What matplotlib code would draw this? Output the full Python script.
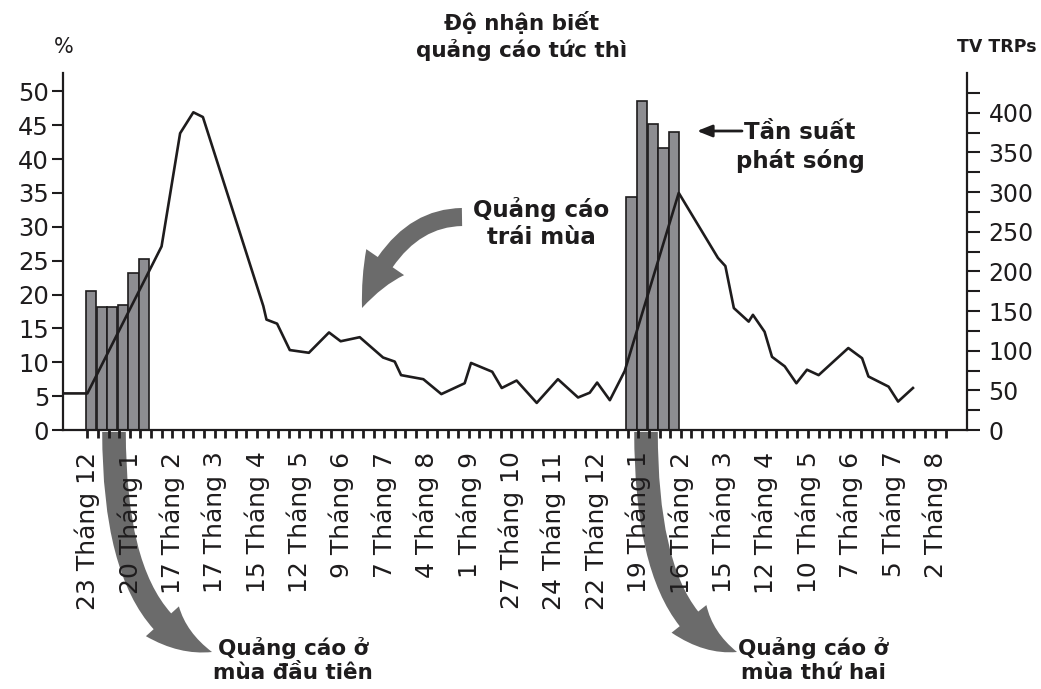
import numpy as np
import matplotlib
matplotlib.use("Agg")
import matplotlib.pyplot as plt
from matplotlib.patches import FancyArrowPatch, ArrowStyle
from matplotlib.path import Path

plt.rcParams['font.family'] = ['DejaVu Sans']

# x axis is in weeks, week 0 = 23 Tháng 12
date_labels = ["23 Tháng 12", "20 Tháng 1", "17 Tháng 2", "17 Tháng 3", "15 Tháng 4",
               "12 Tháng 5", "9 Tháng 6", "7 Tháng 7", "4 Tháng 8", "1 Tháng 9",
               "27 Tháng 10", "24 Tháng 11", "22 Tháng 12", "19 Tháng 1", "16 Tháng 2",
               "15 Tháng 3", "12 Tháng 4", "10 Tháng 5", "7 Tháng 6", "5 Tháng 7", "2 Tháng 8"]
label_weeks = [0, 4, 8, 12, 16, 20, 24, 28, 32, 36, 40, 44, 48, 52, 56, 60, 64, 68, 72, 76, 80]
n_weeks = 82

# ad awareness (%), left axis
line_weeks = [-2.3, 0, 7.0, 8.75, 10.0, 10.9, 16.6, 16.9, 17.9, 19.1, 20.9, 22.8, 23.9,
              25.7, 27.9, 29.0, 29.6, 31.7, 33.4, 35.6, 36.2, 38.2, 39.1, 40.5, 42.4,
              44.4, 46.3, 47.4, 48.1, 49.3, 50.7, 55.8, 59.5, 60.2, 61.0, 62.4, 62.8,
              63.9, 64.6, 65.8, 66.9, 67.9, 69.0, 71.8, 73.1, 73.7, 75.6, 76.5, 77.9]
awareness = [5.4, 5.4, 27.1, 43.8, 46.9, 46.2, 18.3, 16.3, 15.7, 11.8, 11.4, 14.4, 13.1,
             13.7, 10.7, 10.1, 8.1, 7.5, 5.3, 6.9, 9.9, 8.6, 6.2, 7.3, 4.0,
             7.5, 4.8, 5.5, 7.0, 4.4, 8.7, 35.0, 25.4, 24.2, 18.0, 16.0, 17.0,
             14.5, 10.8, 9.4, 6.9, 8.9, 8.1, 12.1, 10.6, 7.9, 6.4, 4.2, 6.2]

# TV TRPs, right axis
season1_weeks = [0, 1, 2, 3, 4, 5]
season1_trps = [175, 155, 155, 157, 198, 216]
season2_weeks = [51, 52, 53, 54, 55]
season2_trps = [294, 415, 386, 356, 376]

W, H = 1041, 689
fig = plt.figure(figsize=(W / 100, H / 100), dpi=100)


def fpos(x, y):
    # pixel position from top-left -> figure fraction
    return (x / W, 1 - y / H)


ax = fig.add_axes([63 / W, 1 - 430 / H, (967 - 63) / W, (430 - 73) / H])
ax2 = ax.twinx()
ax.set_zorder(2)
ax2.set_zorder(1)
ax.patch.set_visible(False)
ax2.patch.set_visible(False)

ink = '#1e1c1d'
bar_kw = dict(width=0.97, color='#8d8d91', edgecolor=ink, linewidth=1.2)
ax2.bar(np.array(season1_weeks) + 0.35, season1_trps, **bar_kw)
ax2.bar(np.array(season2_weeks) + 0.35, season2_trps, **bar_kw)

ax.plot(line_weeks, awareness, color=ink, lw=1.9)

ax.set_xlim(-2.3, 83.0)
ax.set_ylim(0, 52.7)
ax2.set_ylim(0, 450)

for s in ['top', 'right']:
    ax.spines[s].set_visible(False)
for s in ['top', 'left', 'bottom']:
    ax2.spines[s].set_visible(False)
for sp in [ax.spines['left'], ax.spines['bottom'], ax2.spines['right']]:
    sp.set_linewidth(1.6)
    sp.set_color(ink)

tick_labels = [''] * n_weeks
for w, lab in zip(label_weeks, date_labels):
    tick_labels[w] = lab
ax.set_xticks(range(n_weeks))
ax.set_xticklabels(tick_labels, rotation=90)
ax.tick_params(axis='x', direction='out', length=5.5, width=2, labelsize=18, pad=10,
               color=ink, labelcolor=ink)

ax.set_yticks(range(0, 51, 5))
ax.tick_params(axis='y', direction='out', length=8, width=1.5, labelsize=17.5, pad=2,
               color=ink, labelcolor=ink)

ax2.set_yticks(range(0, 401, 50))
ax2.set_yticks(range(25, 426, 50), minor=True)
ax2.tick_params(axis='y', which='both', direction='out', length=9.5, width=1.5,
                labelsize=17, pad=6, color=ink, labelcolor=ink)

# texts
fig.text(*fpos(64, 47), '%', fontsize=15, ha='center', va='center', color=ink)
fig.text(*fpos(997, 47), 'TV TRPs', fontsize=12.5, fontweight='bold', ha='center',
         va='center', color=ink)
fig.text(*fpos(522, 36), 'Độ nhận biết\nquảng cáo tức thì', fontsize=15.5,
         fontweight='bold', ha='center', va='center', linespacing=1.3, color=ink)
fig.text(*fpos(800, 147), 'Tần suất\nphát sóng', fontsize=16.5, fontweight='bold',
         ha='center', va='center', linespacing=1.25, color=ink)
fig.text(*fpos(541, 223), 'Quảng cáo\ntrái mùa', fontsize=16.5, fontweight='bold',
         ha='center', va='center', linespacing=1.2, color=ink)
fig.text(*fpos(293, 660), 'Quảng cáo ở\nmùa đầu tiên', fontsize=15.5, fontweight='bold',
         ha='center', va='center', linespacing=1.25, color=ink)
fig.text(*fpos(813, 660), 'Quảng cáo ở\nmùa thứ hai', fontsize=15.5, fontweight='bold',
         ha='center', va='center', linespacing=1.25, color=ink)

# thin black arrow to the bars
fig.add_artist(FancyArrowPatch(fpos(742, 131), fpos(697, 131), transform=fig.transFigure,
                               arrowstyle='-|>,head_length=0.45,head_width=0.18',
                               mutation_scale=20, lw=2, color=ink, shrinkA=0, shrinkB=0))

# big grey curved arrows
grey = '#6b6b6b'


def curved_arrow(p0, pc, p1, tail, head_w, head_l):
    path = Path([fpos(*p0), fpos(*pc), fpos(*p1)], [Path.MOVETO, Path.CURVE3, Path.CURVE3])
    style = ArrowStyle.Simple(head_length=head_l, head_width=head_w, tail_width=tail)
    arr = FancyArrowPatch(path=path, arrowstyle=style, mutation_scale=1,
                          transform=fig.transFigure, color=grey, lw=0, zorder=-1)
    fig.add_artist(arr)


curved_arrow((114, 432), (114, 625), (212, 652), 17, 32, 42)
curved_arrow((646, 432), (646, 625), (737, 652), 17, 32, 42)
curved_arrow((462, 217), (396, 218), (362, 308), 13, 33, 37)

fig.savefig('out.png', dpi=100)
